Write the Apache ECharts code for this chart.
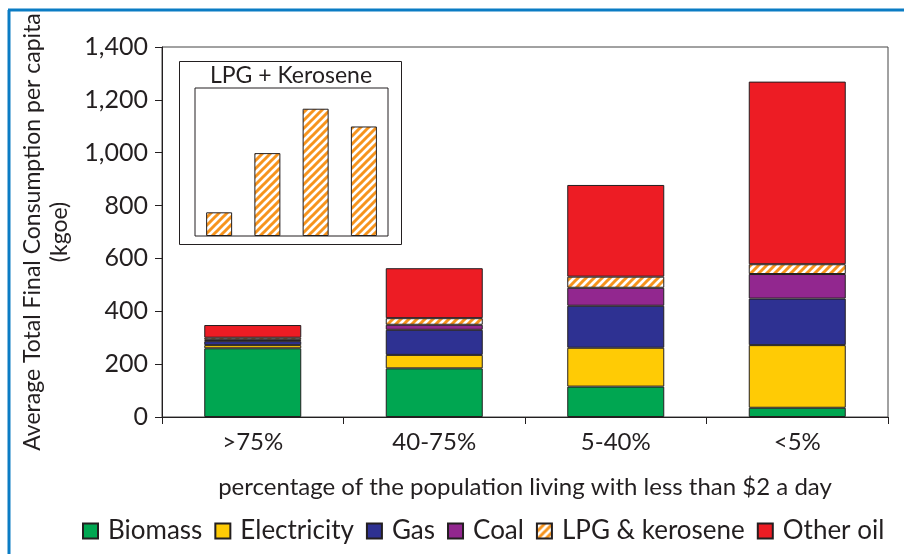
<!DOCTYPE html>
<html>
<head>
<meta charset="utf-8">
<script src="https://cdn.jsdelivr.net/npm/echarts@6/dist/echarts.min.js"></script>
<style>
  html, body { margin: 0; padding: 0; background: #fff; }
  #chart { width: 904px; height: 554px; }
</style>
</head>
<body>
<div id="chart"></div>
<script>
// Income groups: share of population living on less than $2 a day
const categories = ['>75%', '40-75%', '5-40%', '<5%'];

// Average total final consumption per capita by fuel (kgoe)
const biomass     = [260, 184, 115, 35];
const electricity = [12, 51, 147, 237];
const gas         = [15, 95, 159, 176];
const coal        = [5, 19, 68, 93];
const lpgKerosene = [8, 25, 42, 37];
const otherOil    = [48, 189, 347, 691];

// Inset: LPG + kerosene, relative scale
const insetValues = [16, 56, 86, 74];

const yTicks = [0, 200, 400, 600, 800, 1000, 1200, 1400];

const FONT = 'Lato, "Noto Sans", sans-serif';
const TEXT = '#231f20';
const EDGE = '#231f20';

// Orange diagonal hatch used for LPG & kerosene
function hatch() {
  const s = 8;
  const c = document.createElement('canvas');
  c.width = s; c.height = s;
  const g = c.getContext('2d');
  g.fillStyle = '#ffffff';
  g.fillRect(0, 0, s, s);
  g.strokeStyle = '#f7941d';
  g.lineWidth = 3;
  g.beginPath();
  g.moveTo(-2, 2); g.lineTo(2, -2);
  g.moveTo(0, s); g.lineTo(s, 0);
  g.moveTo(s - 2, s + 2); g.lineTo(s + 2, s - 2);
  g.stroke();
  return { image: c, repeat: 'repeat' };
}
const hatchFill = hatch();

const fuels = [
  { name: 'Biomass', data: biomass, color: '#00a651' },
  { name: 'Electricity', data: electricity, color: '#ffcb05' },
  { name: 'Gas', data: gas, color: '#2e3192' },
  { name: 'Coal', data: coal, color: '#92278f' },
  { name: 'LPG & kerosene', data: lpgKerosene, color: hatchFill },
  { name: 'Other oil', data: otherOil, color: '#ed1c24' }
];

const mainSeries = fuels.map(f => ({
  name: f.name,
  type: 'bar',
  stack: 'total',
  xAxisIndex: 0,
  yAxisIndex: 0,
  barWidth: 97,
  data: f.data,
  itemStyle: { color: f.color, borderColor: EDGE, borderWidth: 1 },
  emphasis: { disabled: true }
}));

const chart = echarts.init(document.getElementById('chart'), null, { renderer: 'canvas' });

chart.setOption({
  animation: false,
  backgroundColor: '#ffffff',
  textStyle: { fontFamily: FONT, color: TEXT },
  grid: [
    { left: 162, right: 16, top: 47, bottom: 137, show: true, borderColor: '#444', borderWidth: 1 },
    { left: 195, top: 88, width: 193, height: 148, show: true, borderColor: EDGE, borderWidth: 1 }
  ],
  legend: {
    bottom: 10,
    left: 82,
    padding: 0,
    itemWidth: 15,
    itemHeight: 15,
    itemGap: 12,
    icon: 'rect',
    selectedMode: false,
    textStyle: { fontFamily: FONT, fontSize: 26, color: TEXT, padding: [0, 0, 0, 5] },
    data: fuels.map(f => f.name)
  },
  xAxis: [
    {
      type: 'category',
      gridIndex: 0,
      data: categories,
      axisLine: { lineStyle: { color: EDGE, width: 1 } },
      axisTick: { show: true, length: 7, lineStyle: { color: EDGE } },
      axisLabel: { fontFamily: FONT, fontSize: 24, color: TEXT, margin: 13 },
      name: 'percentage of the population living with less than $2 a day',
      nameLocation: 'middle',
      nameGap: 58,
      nameTextStyle: { fontFamily: FONT, fontSize: 24, color: TEXT }
    },
    {
      type: 'category',
      gridIndex: 1,
      data: categories,
      show: false
    }
  ],
  yAxis: [
    {
      type: 'value',
      gridIndex: 0,
      min: 0,
      max: 1400,
      interval: 200,
      splitLine: { show: false },
      axisLine: { show: true, lineStyle: { color: EDGE, width: 1 } },
      axisTick: { show: true, length: 7, lineStyle: { color: EDGE } },
      axisLabel: {
        fontFamily: FONT, fontSize: 25, color: TEXT, margin: 14,
        formatter: v => yTicks.includes(v) ? v.toLocaleString('en-US') : ''
      },
      name: 'Average Total Final Consumption per capita\n(kgoe)',
      nameLocation: 'middle',
      nameRotate: 90,
      nameGap: 79,
      nameTextStyle: { fontFamily: FONT, fontSize: 23, color: TEXT, lineHeight: 27 }
    },
    {
      type: 'value',
      gridIndex: 1,
      min: 0,
      max: 100,
      show: false,
      splitLine: { show: false }
    }
  ],
  graphic: [
    // blue page frame
    { type: 'line', shape: { x1: 8, y1: 10, x2: 904, y2: 10 }, style: { stroke: '#0b7cc4', lineWidth: 3 } },
    { type: 'line', shape: { x1: 9, y1: 10, x2: 9, y2: 554 }, style: { stroke: '#0b7cc4', lineWidth: 3 } },
    // inset frame and title
    { type: 'rect', shape: { x: 179.5, y: 61.5, width: 222, height: 183 }, style: { fill: null, stroke: EDGE, lineWidth: 1 } },
    { type: 'text', x: 291, y: 87, style: { text: 'LPG + Kerosene', fontFamily: FONT, fontSize: 23, fill: TEXT, textAlign: 'center', textVerticalAlign: 'bottom' } }
  ],
  series: mainSeries.concat([
    {
      name: 'LPG + Kerosene',
      type: 'bar',
      xAxisIndex: 1,
      yAxisIndex: 1,
      barWidth: 26,
      data: insetValues,
      itemStyle: { color: hatchFill, borderColor: EDGE, borderWidth: 1 },
      emphasis: { disabled: true }
    }
  ])
});
</script>
</body>
</html>
